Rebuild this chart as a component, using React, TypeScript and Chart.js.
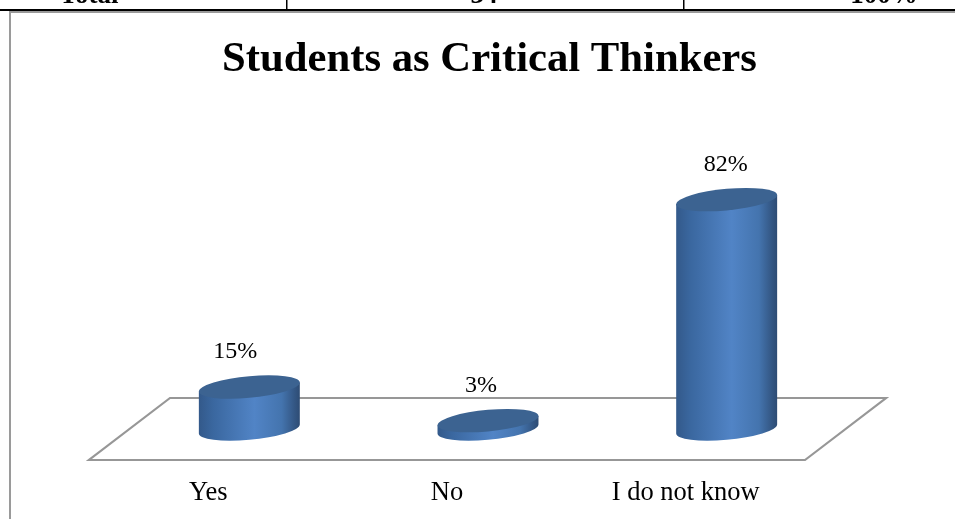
import React, { useEffect, useRef } from "react";
import { Chart, registerables, Plugin } from "chart.js";

Chart.register(...registerables);

const categories = ["Yes", "No", "I do not know"];
const percentages = [15, 3, 82];
const valueLabels = ["15%", "3%", "82%"];
const labelShiftX = [27, 34, 40];
const tableFooter = [
  { text: "Total", x: 89 },
  { text: "34", x: 484 },
  { text: "100%", x: 884 },
];
const tableDividers = [286, 683];

const SERIF = '"Liberation Serif", "Times New Roman", serif';
const DEPTH_X = 81;
const DEPTH_Y = 31;
const CYLINDER_SHIFT = 41;
const SHEAR = 0.09;
const RIM = 10.8;

// Remains of the table above the chart, and the chart's own frame.
const pageFurniture: Plugin<"bar"> = {
  id: "pageFurniture",
  beforeDraw(chart) {
    const { ctx, width, height } = chart;
    ctx.save();
    ctx.fillStyle = "#ffffff";
    ctx.fillRect(0, 0, width, height);
    ctx.fillStyle = "#000000";
    ctx.fillRect(0, 9, width, 2);
    tableDividers.forEach((x) => ctx.fillRect(x, 0, 1.5, 9));
    ctx.font = `bold 27px ${SERIF}`;
    ctx.textAlign = "center";
    ctx.textBaseline = "alphabetic";
    tableFooter.forEach((cell) => ctx.fillText(cell.text, cell.x, 3));
    ctx.fillStyle = "#9a9a9a";
    ctx.fillRect(9, 11, width - 9, 2);
    ctx.fillRect(9, 11, 2, height - 11);
    ctx.restore();
  },
};

// The floor of the 3-D plot, drawn as a parallelogram around the zero line.
const floorPlane: Plugin<"bar"> = {
  id: "floorPlane",
  beforeDatasetsDraw(chart) {
    const { ctx, chartArea } = chart;
    const zero = chart.scales.y.getPixelForValue(0);
    ctx.save();
    ctx.strokeStyle = "#979797";
    ctx.lineWidth = 2.2;
    ctx.lineJoin = "miter";
    ctx.beginPath();
    ctx.moveTo(chartArea.left, zero + DEPTH_Y);
    ctx.lineTo(chartArea.right, zero + DEPTH_Y);
    ctx.lineTo(chartArea.right + DEPTH_X, zero - DEPTH_Y);
    ctx.lineTo(chartArea.left + DEPTH_X, zero - DEPTH_Y);
    ctx.closePath();
    ctx.stroke();
    ctx.restore();
  },
};

// Replaces each flat bar with a tilted cylinder and writes its value above it.
const cylinders: Plugin<"bar"> = {
  id: "cylinders",
  afterDatasetsDraw(chart) {
    const { ctx } = chart;
    chart.getDatasetMeta(0).data.forEach((element, i) => {
      const bar = element.getProps(["x", "y", "base", "width"], true) as any;
      const a = bar.width / 2;
      const h = bar.base - bar.y;
      ctx.save();
      ctx.translate(bar.x + CYLINDER_SHIFT, bar.base);
      ctx.transform(1, -SHEAR, 0, 1, 0, 0);

      const side = ctx.createLinearGradient(-a, 0, a, 0);
      side.addColorStop(0, "#33598a");
      side.addColorStop(0.14, "#3a679f");
      side.addColorStop(0.55, "#5184c6");
      side.addColorStop(0.82, "#4474ae");
      side.addColorStop(0.95, "#335683");
      side.addColorStop(1, "#2e4c74");
      ctx.fillStyle = side;
      ctx.beginPath();
      ctx.moveTo(-a, -h);
      ctx.lineTo(-a, 0);
      ctx.ellipse(0, 0, a, RIM, 0, Math.PI, 0, true);
      ctx.lineTo(a, -h);
      ctx.closePath();
      ctx.fill();

      ctx.fillStyle = "#3c6391";
      ctx.beginPath();
      ctx.ellipse(0, -h, a, RIM, 0, 0, Math.PI * 2);
      ctx.fill();
      ctx.restore();

      ctx.save();
      ctx.fillStyle = "#000000";
      ctx.font = `24px ${SERIF}`;
      ctx.textAlign = "center";
      ctx.textBaseline = "middle";
      ctx.fillText(valueLabels[i], bar.x + labelShiftX[i], bar.y - 35);
      ctx.restore();
    });
  },
};

export default function App() {
  const canvasRef = useRef<HTMLCanvasElement>(null);

  useEffect(() => {
    const chart = new Chart(canvasRef.current!, {
      type: "bar",
      data: {
        labels: categories,
        datasets: [
          {
            label: "Students as Critical Thinkers",
            data: percentages,
            backgroundColor: "rgba(0,0,0,0)",
            categoryPercentage: 0.423,
            barPercentage: 1,
          },
        ],
      },
      options: {
        responsive: false,
        animation: false,
        layout: { padding: { left: 24, right: 0, top: 0, bottom: 0 } },
        plugins: {
          legend: { display: false },
          tooltip: { enabled: false },
          title: {
            display: true,
            text: "Students as Critical Thinkers",
            color: "#000000",
            font: { family: SERIF, size: 42.7, weight: "bold", lineHeight: 1.2 },
            padding: { top: 34, bottom: 64 },
          },
        },
        scales: {
          x: {
            grid: { display: false },
            border: { display: false },
            ticks: {
              color: "#000000",
              font: { family: SERIF, size: 26.5 },
              padding: 40,
              maxRotation: 0,
            },
            afterFit: (scale: any) => {
              scale.height = 90;
            },
          },
          y: {
            min: 0,
            max: 100,
            grid: { display: false },
            border: { display: false },
            ticks: { display: false },
            afterFit: (scale: any) => {
              scale.width = 65;
            },
          },
          // Empty axis that reserves the depth of the floor on the right.
          yDepth: {
            position: "right",
            min: 0,
            max: 100,
            grid: { display: false },
            border: { display: false },
            ticks: { display: false },
            afterFit: (scale: any) => {
              scale.width = 150;
            },
          },
        },
      },
      plugins: [pageFurniture, floorPlane, cylinders],
    } as any);
    return () => chart.destroy();
  }, []);

  return (
    <div style={{ position: "fixed", left: 0, top: 0, width: 955, height: 519 }}>
      <canvas ref={canvasRef} width={955} height={519} style={{ display: "block" }} />
    </div>
  );
}
